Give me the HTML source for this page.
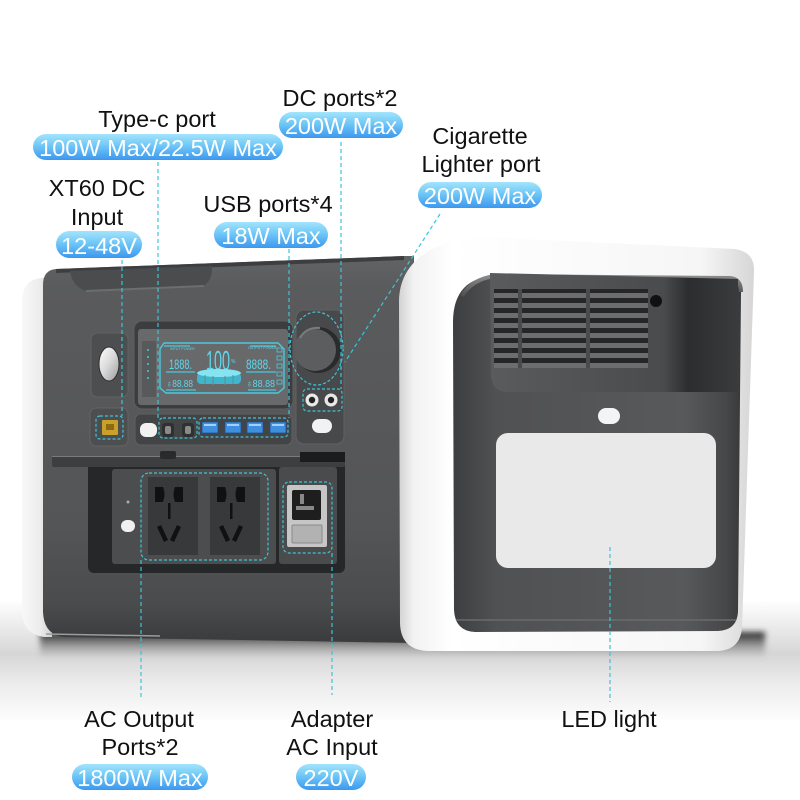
<!DOCTYPE html>
<html><head><meta charset="utf-8"><style>
html,body{margin:0;padding:0;width:800px;height:800px;overflow:hidden;background:#fff}
svg{display:block}
.lb{font-family:"Liberation Sans",Arial,sans-serif;font-size:23.5px;fill:#111;text-anchor:middle}
.pt{font-family:"Liberation Sans",Arial,sans-serif;font-size:23.5px;fill:#fff;text-anchor:middle}
.lcd{font-family:"Liberation Sans",Arial,sans-serif;fill:#5fd6ea}
</style></head><body>
<svg width="800" height="800" viewBox="0 0 800 800" xmlns="http://www.w3.org/2000/svg">
<defs>
 <linearGradient id="pill" x1="0" y1="0" x2="0" y2="1">
  <stop offset="0" stop-color="#a3e4fc"/><stop offset="0.45" stop-color="#6fc7f7"/><stop offset="1" stop-color="#3c97ee"/>
 </linearGradient>
 <linearGradient id="floor" x1="0" y1="0" x2="0" y2="1">
  <stop offset="0" stop-color="#ffffff"/><stop offset="0.3" stop-color="#e4e4e4"/><stop offset="0.45" stop-color="#d6d6d6"/><stop offset="0.7" stop-color="#ececec"/><stop offset="1" stop-color="#fdfdfd"/>
 </linearGradient>
 <linearGradient id="shadow" x1="0" y1="0" x2="0" y2="1">
  <stop offset="0" stop-color="#111" stop-opacity="0.95"/><stop offset="1" stop-color="#777" stop-opacity="0"/>
 </linearGradient>
 <linearGradient id="body" x1="0" y1="0" x2="0" y2="1">
  <stop offset="0" stop-color="#626365"/><stop offset="0.08" stop-color="#5a5b5d"/><stop offset="0.7" stop-color="#545557"/><stop offset="0.9" stop-color="#4a4b4d"/><stop offset="1" stop-color="#3a3b3d"/>
 </linearGradient>
 <linearGradient id="side" x1="0" y1="0" x2="1" y2="0">
  <stop offset="0" stop-color="#f8f8f8"/><stop offset="0.6" stop-color="#ececec"/><stop offset="1" stop-color="#cfcfcf"/>
 </linearGradient>
 <linearGradient id="cap" x1="0" y1="0" x2="1" y2="0">
  <stop offset="0" stop-color="#d2d2d2"/><stop offset="0.04" stop-color="#f2f2f2"/><stop offset="0.15" stop-color="#ffffff"/><stop offset="0.85" stop-color="#f6f6f6"/><stop offset="1" stop-color="#d6d6d6"/>
 </linearGradient>
 <linearGradient id="rec" x1="0" y1="0" x2="1" y2="0">
  <stop offset="0" stop-color="#3d3e40"/><stop offset="0.15" stop-color="#505153"/><stop offset="0.8" stop-color="#58595b"/><stop offset="0.95" stop-color="#464749"/><stop offset="1" stop-color="#38393b"/>
 </linearGradient>
 <linearGradient id="vent" x1="0" y1="0" x2="1" y2="0">
  <stop offset="0" stop-color="#5a5b5d"/><stop offset="0.7" stop-color="#4a4b4d"/><stop offset="0.8" stop-color="#2c2d2e"/><stop offset="1" stop-color="#3a3b3c"/>
 </linearGradient>
 <linearGradient id="btn" x1="0" y1="0" x2="1" y2="1">
  <stop offset="0" stop-color="#ffffff"/><stop offset="0.5" stop-color="#d8d8d8"/><stop offset="1" stop-color="#9a9a9a"/>
 </linearGradient>
 <linearGradient id="lip" x1="0" y1="0" x2="0" y2="1">
  <stop offset="0" stop-color="#8a8a8a"/><stop offset="1" stop-color="#4e4f51"/>
 </linearGradient>
 <filter id="blur" x="-10%" y="-50%" width="120%" height="200%"><feGaussianBlur stdDeviation="3"/></filter>
</defs>

<rect x="0" y="0" width="800" height="800" fill="#fff"/>
<rect x="0" y="600" width="800" height="120" fill="url(#floor)"/>
<rect x="40" y="632" width="725" height="26" fill="url(#shadow)" filter="url(#blur)"/>

<!-- left white side -->
<path d="M52 276 L36 279 Q22 283 22 302 L22 612 Q23 634 44 637 L52 637 Z" fill="url(#side)"/>
<!-- body -->
<path d="M56 269 L404 256 L414 256 L414 643 L64 637 Q44 635 43 612 L43 285 Q43 270 56 269 Z" fill="url(#body)"/>
<path d="M56 269 L404 256 L404 260 L56 273 Z" fill="#3d3e40"/>
<path d="M70 271 L212 266 Q213 279 204 286 L86 291 Q72 286 70 271 Z" fill="#4b4c4e"/>
<path d="M86 291 L204 286" stroke="#6c6d6f" stroke-width="2"/>
<path d="M46 634 L160 636" stroke="#9c9c9c" stroke-width="1.5"/>

<!-- power button panel -->
<rect x="91" y="333" width="37" height="64" rx="6" fill="#4d4e50" stroke="#626365" stroke-width="1"/>
<ellipse cx="109" cy="364" rx="10" ry="17" fill="url(#btn)" stroke="#2e2e2e" stroke-width="1"/>
<!-- xt60 panel -->
<rect x="90" y="408" width="38" height="38" rx="6" fill="#4d4e50" stroke="#626365" stroke-width="1"/>
<rect x="102" y="420" width="16" height="15" rx="1" fill="#c9a12a"/>
<rect x="106" y="424" width="8" height="6" fill="#8a6a12"/>
<rect x="96" y="416" width="27" height="23" rx="4" fill="none" stroke="#3ec3d8" stroke-width="1.2" stroke-dasharray="3 2"/>

<!-- LCD -->
<rect x="134" y="321" width="159" height="88" rx="8" fill="#3c3d3f" stroke="#5e5f61" stroke-width="1"/>
<rect x="138" y="329" width="150" height="76" rx="3" fill="#68696b"/>
<rect x="142" y="341" width="14" height="56" fill="#58595b"/>
<path d="M164 343 L278 343 L284 349 L284 388 L278 393 L166 393 L160 388 L160 349 Z" fill="none" stroke="#4cc8dd" stroke-width="1.4"/>
<path d="M164 346 L190 346 M250 346 L276 346 M166 372 L195 372 M246 372 L276 372 M166 390 L196 390 M248 390 L276 390" stroke="#4cc8dd" stroke-width="1.2"/>
<text class="lcd" x="170" y="350" font-size="3.5">INPUT POWER</text>
<text class="lcd" x="248" y="349" font-size="3.5">OUTPUT POWER</text>
<text class="lcd" x="169" y="369" font-size="14" textLength="23" lengthAdjust="spacingAndGlyphs">1888.</text>
<text class="lcd" x="206" y="370" font-size="28" textLength="24" lengthAdjust="spacingAndGlyphs">100</text>
<text class="lcd" x="231" y="363" font-size="5">%</text>
<text class="lcd" x="246" y="369" font-size="14" textLength="25" lengthAdjust="spacingAndGlyphs">8888.</text>
<text class="lcd" x="166" y="387" font-size="10" textLength="27" lengthAdjust="spacingAndGlyphs">♁88.88</text>
<text class="lcd" x="246" y="387" font-size="10" textLength="29" lengthAdjust="spacingAndGlyphs">♁88.88</text>
<rect x="197" y="373" width="44" height="11" rx="4" fill="#3fb6cb"/>
<ellipse cx="219" cy="373" rx="22" ry="4" fill="#86e3f0"/>
<path d="M205 375 L205 384 M213 376 L213 385 M225 376 L225 385 M233 375 L233 384" stroke="#5b8e98" stroke-width="1"/>
<g fill="none" stroke="#4cc8dd" stroke-width="0.8">
<rect x="277" y="348" width="5" height="4"/><rect x="277" y="356" width="5" height="4"/><rect x="277" y="364" width="5" height="4"/><rect x="277" y="372" width="5" height="4"/><rect x="277" y="380" width="5" height="4"/>
</g>
<g fill="#4cc8dd"><circle cx="148" cy="350" r="1"/><circle cx="148" cy="357" r="1"/><circle cx="148" cy="364" r="1"/><circle cx="148" cy="371" r="1"/><circle cx="148" cy="378" r="1"/></g>

<!-- port strip -->
<rect x="135" y="414" width="157" height="31" rx="6" fill="#434446" stroke="#5e5f61" stroke-width="1"/>
<rect x="140" y="423" width="17" height="14" rx="6" fill="#f2f2f2"/>
<rect x="162" y="423" width="12" height="14" rx="3" fill="#2f3031"/>
<rect x="165" y="426" width="6" height="8" rx="2" fill="#8a8a8a"/>
<rect x="182" y="423" width="12" height="14" rx="3" fill="#2f3031"/>
<rect x="185" y="426" width="6" height="8" rx="2" fill="#8a8a8a"/>
<g fill="#3f8fdf" stroke="#1f4f8f" stroke-width="0.8">
<rect x="202" y="422" width="16" height="11"/><rect x="225" y="422" width="16" height="11"/><rect x="247" y="422" width="16" height="11"/><rect x="270" y="422" width="16" height="11"/>
</g>
<g fill="#9fd0ff"><rect x="204" y="424" width="12" height="2"/><rect x="227" y="424" width="12" height="2"/><rect x="249" y="424" width="12" height="2"/><rect x="272" y="424" width="12" height="2"/></g>
<rect x="159" y="418" width="38" height="20" rx="4" fill="none" stroke="#3ec3d8" stroke-width="1.2" stroke-dasharray="3 2"/>
<rect x="199" y="418" width="89" height="19" rx="4" fill="none" stroke="#3ec3d8" stroke-width="1.2" stroke-dasharray="3 2"/>

<!-- right panel (cigarette) -->
<rect x="296" y="310" width="48" height="134" rx="8" fill="#48494b" stroke="#606163" stroke-width="1"/>
<circle cx="318" cy="350" r="23" fill="#2a2b2c"/>
<circle cx="315" cy="350" r="21" fill="#5c5d5f"/>
<path d="M300 338 Q306 327 320 328" stroke="#7a7b7d" stroke-width="2" fill="none"/>
<ellipse cx="316.5" cy="348.5" rx="26.5" ry="36.5" fill="none" stroke="#3ec3d8" stroke-width="1.2" stroke-dasharray="3 2"/>
<circle cx="312" cy="400" r="6.5" fill="#e8e8e8"/><circle cx="312" cy="400" r="3.2" fill="#222"/>
<circle cx="331" cy="400" r="6.5" fill="#e8e8e8"/><circle cx="331" cy="400" r="3.2" fill="#222"/>
<rect x="303" y="389" width="39" height="22" rx="4" fill="none" stroke="#3ec3d8" stroke-width="1.2" stroke-dasharray="3 2"/>
<rect x="312" y="419" width="20" height="14" rx="7" fill="#f2f2f2"/>

<!-- AC recess -->
<rect x="88" y="461" width="257" height="112" rx="6" fill="#262728"/>
<rect x="112" y="469" width="164" height="95" rx="3" fill="#4c4d4f"/>
<rect x="279" y="467" width="58" height="97" rx="3" fill="#4a4b4d"/>
<rect x="52" y="456" width="293" height="11" rx="2" fill="#3d3e40"/>
<path d="M52 456.5 L345 456.5" stroke="#7a7b7d" stroke-width="1"/>
<rect x="160" y="451" width="16" height="8" rx="2" fill="#2a2a2b"/>
<rect x="300" y="452" width="45" height="10" fill="#1c1c1d"/>
<!-- sockets -->
<g>
<rect x="148" y="477" width="50" height="78" fill="#38393b"/>
<path d="M155 487 L163 487 Q166 494 163 502 L155 502 Z" fill="#111"/>
<path d="M175 487 L183 487 L183 502 L175 502 Q172 494 175 487 Z" fill="#111"/>
<rect x="168" y="503" width="2.5" height="16" fill="#111"/>
<path d="M157 527 L161 525 L168 540 L164 542 Z" fill="#111"/>
<path d="M181 527 L177 525 L170 540 L174 542 Z" fill="#111"/>
</g>
<g transform="translate(62,0)">
<rect x="148" y="477" width="50" height="78" fill="#38393b"/>
<path d="M155 487 L163 487 Q166 494 163 502 L155 502 Z" fill="#111"/>
<path d="M175 487 L183 487 L183 502 L175 502 Q172 494 175 487 Z" fill="#111"/>
<rect x="168" y="503" width="2.5" height="16" fill="#111"/>
<path d="M157 527 L161 525 L168 540 L164 542 Z" fill="#111"/>
<path d="M181 527 L177 525 L170 540 L174 542 Z" fill="#111"/>
</g>
<rect x="141" y="473" width="127" height="87" rx="8" fill="none" stroke="#3ec3d8" stroke-width="1.2" stroke-dasharray="3 2"/>
<circle cx="128" cy="502" r="1.5" fill="#aaa"/>
<rect x="121" y="520" width="14" height="12" rx="6" fill="#f0f0f0"/>
<!-- AC input -->
<rect x="287" y="485" width="40" height="62" rx="2" fill="#c6c6c6"/>
<rect x="292" y="490" width="29" height="30" rx="2" fill="#1e1e1e"/>
<rect x="300" y="494" width="4" height="10" fill="#888"/>
<rect x="296" y="506" width="18" height="4" fill="#888"/>
<rect x="292" y="525" width="30" height="18" rx="1" fill="#b2b2b2" stroke="#8a8a8a" stroke-width="1"/>
<rect x="283" y="482" width="49" height="71" rx="6" fill="none" stroke="#3ec3d8" stroke-width="1.2" stroke-dasharray="3 2"/>

<!-- end cap -->
<path d="M399 302 C399 262 432 240 482 237 L735 249 Q755 252 754 272 L742 628 Q740 650 718 651 L428 651 Q400 650 400 622 Z" fill="url(#cap)"/>
<path d="M453 322 C453 292 468 277 495 276 L730 278 Q741 279 741 292 L738 612 Q737 630 718 631 L475 632 Q455 631 454 610 Z" fill="url(#rec)"/>
<path d="M462 296 Q472 279 495 276 L730 278 Q741 279 741 292" fill="none" stroke="url(#lip)" stroke-width="4"/>
<!-- vent block -->
<path d="M490 273 L738 279 L738 392 L508 392 Q492 392 491 376 Z" fill="url(#vent)"/>
<g fill="#262627">
<rect x="494" y="289" width="24" height="79"/><rect x="522" y="289" width="64" height="79"/><rect x="590" y="289" width="58" height="79"/>
</g>
<g fill="#6c6d6f">
<rect x="494" y="293" width="154" height="5"/><rect x="494" y="303" width="154" height="5"/><rect x="494" y="313" width="154" height="5"/><rect x="494" y="323" width="154" height="5"/><rect x="494" y="333" width="154" height="5"/><rect x="494" y="343" width="154" height="5"/><rect x="494" y="353" width="154" height="5"/><rect x="494" y="363" width="154" height="5"/>
</g>
<g fill="#4a4b4d"><rect x="518" y="289" width="4" height="79"/><rect x="586" y="289" width="4" height="79"/></g>
<circle cx="656" cy="301" r="6" fill="#111"/>
<rect x="598" y="408" width="22" height="16" rx="8" fill="#f4f4f4"/>
<rect x="496" y="433" width="220" height="135" rx="12" fill="#e9e9e9"/>
<path d="M456 620 L736 620" stroke="#6a6b6d" stroke-width="1.5"/>

<!-- dashed connectors -->
<g stroke="#3ec3d8" stroke-width="1.2" stroke-dasharray="4 3" fill="none">
<path d="M122 260 L122 416"/>
<path d="M158 162 L158 418"/>
<path d="M289 249 L289 418"/>
<path d="M341 142 L341 389"/>
<path d="M440 214 L345 362"/>
<path d="M141 560 L141 698"/>
<path d="M332 553 L332 695"/>
<path d="M610 547 L610 702"/>
</g>

<!-- labels -->
<text class="lb" x="157" y="127">Type-c port</text>
<rect x="33" y="134" width="250" height="26" rx="13" fill="url(#pill)"/>
<text class="pt" x="158" y="156">100W Max/22.5W Max</text>

<text class="lb" x="340" y="106">DC ports*2</text>
<rect x="279" y="112" width="124" height="26" rx="13" fill="url(#pill)"/>
<text class="pt" x="341" y="134">200W Max</text>

<text class="lb" x="480" y="144">Cigarette</text>
<text class="lb" x="481" y="172">Lighter port</text>
<rect x="418" y="182" width="124" height="26" rx="13" fill="url(#pill)"/>
<text class="pt" x="480" y="204">200W Max</text>

<text class="lb" x="97" y="196">XT60 DC</text>
<text class="lb" x="97" y="225">Input</text>
<rect x="56" y="231" width="86" height="27" rx="13.5" fill="url(#pill)"/>
<text class="pt" x="99" y="254">12-48V</text>

<text class="lb" x="268" y="212">USB ports*4</text>
<rect x="214" y="222" width="114" height="26" rx="13" fill="url(#pill)"/>
<text class="pt" x="271" y="244">18W Max</text>

<text class="lb" x="139" y="727">AC Output</text>
<text class="lb" x="140" y="755">Ports*2</text>
<rect x="72" y="764" width="136" height="26" rx="13" fill="url(#pill)"/>
<text class="pt" x="140" y="786">1800W Max</text>

<text class="lb" x="332" y="727">Adapter</text>
<text class="lb" x="332" y="755">AC Input</text>
<rect x="296" y="764" width="70" height="26" rx="13" fill="url(#pill)"/>
<text class="pt" x="331" y="786">220V</text>

<text class="lb" x="609" y="727">LED light</text>
</svg>
</body></html>
